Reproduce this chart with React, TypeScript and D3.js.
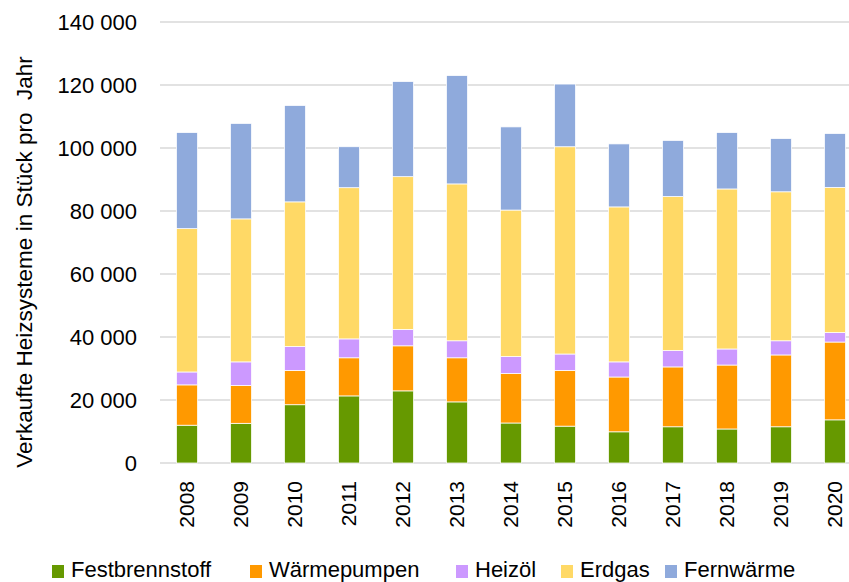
import * as d3 from 'd3';
import { useEffect, useRef } from 'react';

// Jahre (x-Achse)
const years = ['2008', '2009', '2010', '2011', '2012', '2013', '2014', '2015', '2016', '2017', '2018', '2019', '2020'];

// Serien, Werte in Stück (aus dem Bild geschätzt)
const festbrennstoff = [12000, 12600, 18500, 21300, 22900, 19400, 12700, 11700, 9900, 11500, 10800, 11500, 13700];
const waermepumpen = [12800, 12000, 10900, 12100, 14300, 14000, 15700, 17700, 17400, 19000, 20300, 22800, 24700];
const heizoel = [4100, 7500, 7600, 6000, 5200, 5400, 5400, 5200, 4800, 5200, 5100, 4500, 3000];
const erdgas = [45500, 45400, 45900, 48000, 48500, 49800, 46500, 65800, 49200, 48900, 50800, 47300, 46100];
const fernwaerme = [30500, 30300, 30600, 13000, 30200, 34400, 26400, 19900, 20000, 17800, 17900, 16900, 17100];

const seriesNames = ['Festbrennstoff', 'Wärmepumpen', 'Heizöl', 'Erdgas', 'Fernwärme'];
const seriesValues = [festbrennstoff, waermepumpen, heizoel, erdgas, fernwaerme];
const colors = ['#669900', '#ff9900', '#cc99ff', '#ffd966', '#8faadc'];

const yTicks = [0, 20000, 40000, 60000, 80000, 100000, 120000, 140000];
const yTitle = 'Verkaufte Heizsysteme in Stück pro  Jahr';

const font = '"Liberation Sans", Arial, sans-serif';

function App() {
    const svgRef = useRef<SVGSVGElement>(null);

    useEffect(() => {
        const width = 849;
        const svg = d3.select(svgRef.current);
        svg.selectAll('*').remove();

        // Tabelle für d3.stack bauen
        const table = years.map((y, i) => {
            const row: any = { year: y };
            seriesNames.forEach((s, j) => { row[s] = seriesValues[j][i]; });
            return row;
        });

        const x = d3.scaleBand()
            .domain(years)
            .range([160, 862])
            .paddingInner(0.61)
            .paddingOuter(0.305);

        const y = d3.scaleLinear()
            .domain([0, 140000])
            .range([463, 22]);

        // Gitterlinien
        svg.append('g')
            .selectAll('line')
            .data(yTicks)
            .join('line')
            .attr('x1', 160)
            .attr('x2', width)
            .attr('y1', d => y(d))
            .attr('y2', d => y(d))
            .attr('stroke', '#d9d9d9')
            .attr('stroke-width', 1.5);

        // y-Beschriftung
        const fmt = (v: number) => d3.format(',')(v).replace(/,/g, ' ');
        svg.append('g')
            .selectAll('text')
            .data(yTicks)
            .join('text')
            .attr('x', 137)
            .attr('y', d => y(d))
            .attr('dy', '0.35em')
            .attr('text-anchor', 'end')
            .attr('font-family', font)
            .attr('font-size', 22)
            .attr('fill', '#000')
            .text(d => fmt(d));

        svg.append('text')
            .attr('transform', `translate(32,262) rotate(-90)`)
            .attr('text-anchor', 'middle')
            .attr('font-family', font)
            .attr('font-size', 22.5)
            .attr('fill', '#000')
            .attr('xml:space', 'preserve')
            .style('white-space', 'pre')
            .text(yTitle);

        // Balken
        const stack = d3.stack<any>().keys(seriesNames);
        const layers = stack(table);

        svg.append('g')
            .selectAll('g')
            .data(layers)
            .join('g')
            .attr('fill', (d, i) => colors[i])
            .selectAll('rect')
            .data(d => d)
            .join('rect')
            .attr('x', d => x(d.data.year)!)
            .attr('y', d => y(d[1]))
            .attr('width', x.bandwidth())
            .attr('height', d => y(d[0]) - y(d[1]))
            .attr('stroke', '#ffffff')
            .attr('stroke-width', 0.75);

        // x-Beschriftung (gedreht)
        svg.append('g')
            .selectAll('text')
            .data(years)
            .join('text')
            .attr('transform', d => `translate(${x(d)! + x.bandwidth() / 2},481) rotate(-90)`)
            .attr('dy', '0.35em')
            .attr('text-anchor', 'end')
            .attr('font-family', font)
            .attr('font-size', 21)
            .attr('fill', '#000')
            .text(d => d);

        // Legende
        const legendX = [52, 250, 456, 561, 665];
        const legend = svg.append('g')
            .selectAll('g')
            .data(seriesNames)
            .join('g')
            .attr('transform', (d, i) => `translate(${legendX[i]},0)`);
        legend.append('rect')
            .attr('y', 565)
            .attr('width', 12)
            .attr('height', 13)
            .attr('fill', (d, i) => colors[i]);
        legend.append('text')
            .attr('x', 19)
            .attr('y', 577)
            .attr('font-family', font)
            .attr('font-size', 22)
            .attr('fill', '#000')
            .text(d => d);
    }, []);

    return (
        <svg
            ref={svgRef}
            width={849}
            height={582}
            style={{ position: 'absolute', left: 0, top: 0, background: '#fff' }}
        />
    );
}

export default App;
